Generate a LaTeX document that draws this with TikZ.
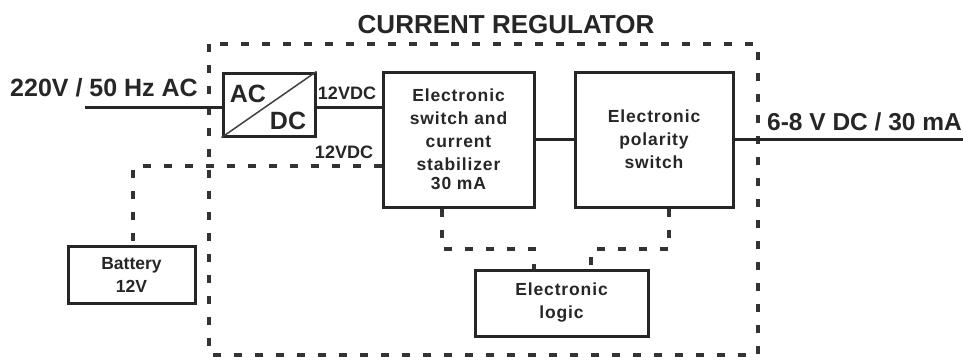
\documentclass[tikz,border=0pt]{standalone}
\usepackage{fontspec}
\setmainfont{Liberation Sans}
\newfontfamily\boxfont[LetterSpace=5]{Liberation Sans}
\begin{document}
\begin{tikzpicture}[x=1pt,y=-1pt,
  solidline/.style={line width=3pt,draw=black!85},
  blockbox/.style={draw=black!85,line width=3pt,inner sep=0pt},
  dashline/.style={line width=3.5pt,draw=black!80,dash pattern=on 8pt off 13pt},
  lbl/.style={font=\bfseries\fontsize{25}{28}\selectfont,text=black!85,inner sep=0pt},
  small/.style={font=\bfseries\fontsize{18}{20}\selectfont,text=black!85,inner sep=0pt},
  btxt/.style={font=\boxfont\bfseries\fontsize{17.5}{23}\selectfont,text=black!85,align=center,inner sep=0pt}
]
\useasboundingbox (0,0) rectangle (963,361);
% regulator dashed frame
\draw[dashline] (209,44) rectangle (758,355);
\node[lbl,font=\bfseries\fontsize{26}{28}\selectfont] (title) at (506,25) {CURRENT REGULATOR};
% AC/DC
\node[blockbox,minimum width=92pt,minimum height=63pt] (acdc) at (269,104.5) {};
\draw[line width=1.5pt,black!75] (acdc.south west) -- (acdc.north east);
\node[lbl] (ac) at (248,94) {AC};
\node[lbl] (dc) at (288,121) {DC};
% switch box
\node[blockbox,minimum width=151pt,minimum height=135pt] (sw) at (458.5,139.5) {};
\node[btxt] (swt) at (sw.center) {Electronic\\switch and\\current\\stabilizer\\[-4pt]30 mA};
% polarity box
\node[blockbox,minimum width=158pt,minimum height=135pt] (pol) at (654,139.5) {};
\node[btxt] (polt) at (pol.center) {Electronic\\polarity\\switch};
% logic
\node[blockbox,minimum width=173pt,minimum height=66pt] (logic) at (561.5,303) {};
\node[btxt] (logict) at (logic.center) {Electronic\\logic};
% battery
\node[blockbox,minimum width=127pt,minimum height=57pt] (bat) at (131.5,274.5) {};
\node[btxt,font=\bfseries\fontsize{17.5}{23}\selectfont] (batt) at (bat.center) {Battery\\12V};
% input
\coordinate (in) at (85,107);
\draw[solidline] (in) -- (acdc.west |- in);
\node[lbl,anchor=west] (inl) at (10,88) {220V / 50 Hz AC};
% 12VDC
\draw[solidline] (acdc.east |- in) -- (sw.west |- in);
\node[small] (v1) at (347,93) {12VDC};
\node[small] (v2) at (344,152) {12VDC};
% switch - polarity
\draw[solidline] (sw.east) -- (pol.west);
% output
\coordinate (out) at (963,139.5);
\draw[solidline] (pol.east) -- (out);
\node[lbl,font=\bfseries\fontsize{24.5}{28}\selectfont,anchor=west] (outl) at (767,122) {6-8 V DC / 30 mA};
% battery dashed
\draw[dashline] (sw.west |- 0,166) -- (133,166) -- (bat.north -| 133,0);
% logic dashed
\draw[dashline] (sw.south -| 442,0) -- (442,249) -- (534,249) -- (logic.north -| 534,0);
\draw[dashline] (pol.south -| 669,0) -- (669,249) -- (591,249) -- (logic.north -| 591,0);
\end{tikzpicture}
\end{document}
